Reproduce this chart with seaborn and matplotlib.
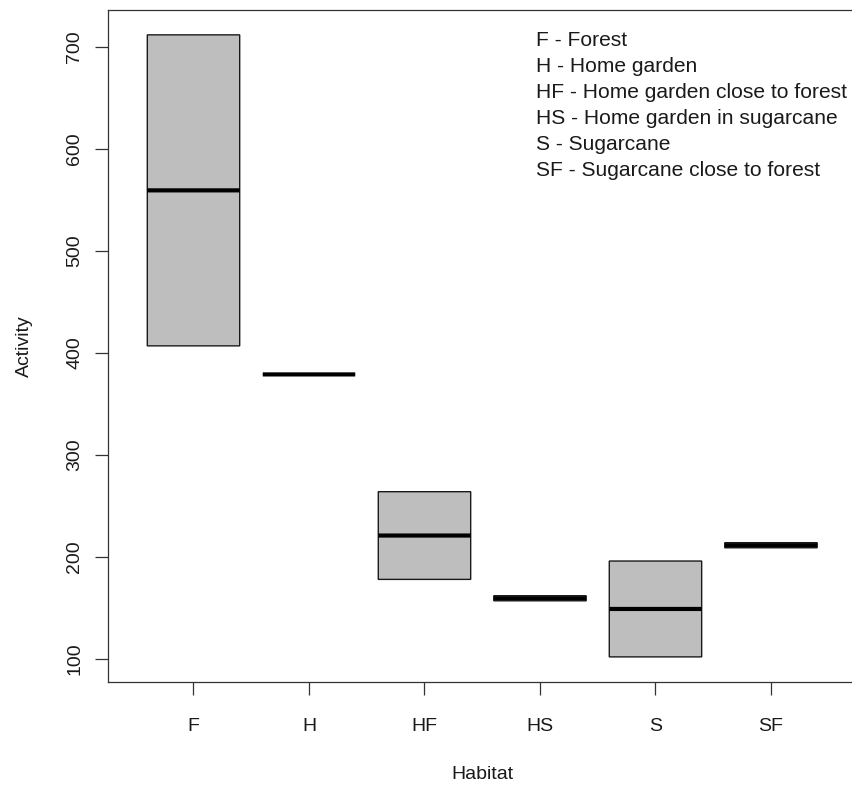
import matplotlib
matplotlib.use("Agg")
import matplotlib.pyplot as plt
import seaborn as sns
import pandas as pd

# Habitat codes and the activity observations recorded in each
habitats = ["F", "H", "HF", "HS", "S", "SF"]
activity_F = [407, 712]
activity_H = [379]
activity_HF = [178, 264]
activity_HS = [157, 162]
activity_S = [102, 196]
activity_SF = [209, 214]

legend_lines = [
    "F - Forest",
    "H - Home garden",
    "HF - Home garden close to forest",
    "HS - Home garden in sugarcane",
    "S - Sugarcane",
    "SF - Sugarcane close to forest",
]

y_ticks = [100, 200, 300, 400, 500, 600, 700]

groups = [activity_F, activity_H, activity_HF, activity_HS, activity_S, activity_SF]

# Each observation is listed twice so that the quartiles fall on Tukey's
# hinges (for two values these are the minimum and maximum).
rows = []
for hab, vals in zip(habitats, groups):
    for v in vals:
        rows.append((hab, v))
        rows.append((hab, v))
df = pd.DataFrame(rows, columns=["Habitat", "Activity"])

sns.set_theme(style="white")
plt.rcParams["font.family"] = ["Liberation Sans", "DejaVu Sans"]

fig = plt.figure(figsize=(8.52, 7.85), dpi=100)
ax = fig.add_axes([0.1268, 0.1315, 0.8784, 0.8558])

sns.boxplot(
    data=df, x="Habitat", y="Activity", order=habitats, ax=ax,
    color="#BEBEBE", saturation=1, width=0.8, linecolor="#1a1a1a",
    linewidth=1.0, showcaps=False, whis=1.5, fliersize=0,
    boxprops=dict(snap=False),
    medianprops=dict(color="black", linewidth=3.0, solid_capstyle="butt",
                     snap=False),
)

# R-style axis range: 4% padding around the data span
lo = min(min(g) for g in groups)
hi = max(max(g) for g in groups)
pad = 0.04 * (hi - lo)
ax.set_ylim(lo - pad, hi + pad)
ax.set_xlim(-0.5 - 0.24, len(habitats) - 0.5 + 0.24)

ax.set_yticks(y_ticks)
ax.set_yticklabels([str(t) for t in y_ticks], rotation=90, va="center")
ax.tick_params(axis="both", which="both", direction="out", length=9.3,
               width=0.9, color="#333333", labelsize=14, labelcolor="#1a1a1a",
               bottom=True, left=True, top=False, right=False)
ax.tick_params(axis="x", pad=17)
ax.tick_params(axis="y", pad=8.6)

for side in ["left", "bottom", "top", "right"]:
    ax.spines[side].set_visible(True)
    ax.spines[side].set_color("#333333")
    ax.spines[side].set_linewidth(0.9)

ax.set_xlabel("Habitat", fontsize=14, color="#1a1a1a", labelpad=22)
ax.set_ylabel("Activity", fontsize=14, color="#1a1a1a", labelpad=24)

for i, line in enumerate(legend_lines):
    ax.text(0.572, 0.954 - i * 0.0387, line, transform=ax.transAxes,
            fontsize=15.1, color="#1a1a1a", ha="left", va="center")

fig.savefig("out.png", dpi=100)
